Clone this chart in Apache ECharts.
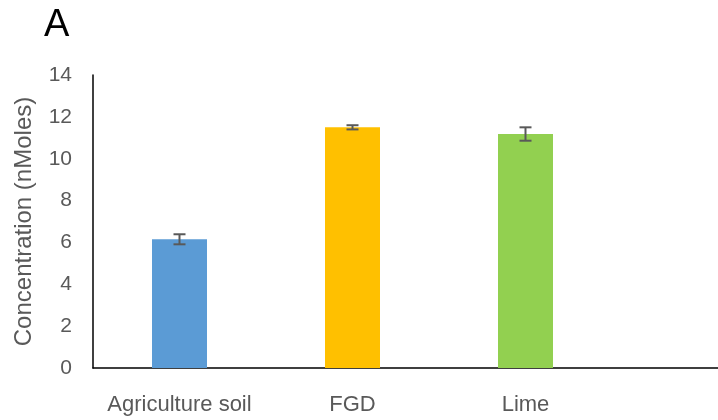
<!DOCTYPE html>
<html>
<head>
<meta charset="utf-8">
<script src="https://cdn.jsdelivr.net/npm/echarts@6/dist/echarts.min.js"></script>
<style>
  html, body { margin: 0; padding: 0; background: #fff; }
  #chart { width: 718px; height: 420px; }
</style>
</head>
<body>
<div id="chart"></div>
<script>
// Treatments and measured concentrations (nMoles) with standard error
const categories = ['Agriculture soil', 'FGD', 'Lime'];
const values = [6.15, 11.5, 11.18];
const errors = [0.24, 0.1, 0.32];
const barColors = ['#5B9BD5', '#FFC000', '#92D050'];
const yTicks = [0, 2, 4, 6, 8, 10, 12, 14];

const FONT = 'Liberation Sans, Arial, sans-serif';
const TEXT = '#595959';

const chart = echarts.init(document.getElementById('chart'));

const option = {
  animation: false,
  title: {
    text: 'A',
    left: 39, top: 2,
    textStyle: { fontFamily: FONT, fontSize: 38, fontWeight: 'normal', color: '#000' }
  },
  grid: [
    { left: 93, right: 106, top: 75, bottom: 52, containLabel: false },
    // companion grid so the baseline runs to the right edge
    { left: 93, right: 0, top: 75, bottom: 52, containLabel: false }
  ],
  xAxis: [
    {
      type: 'category',
      data: categories,
      gridIndex: 0,
      axisLine: { show: false },
      axisTick: { show: false },
      axisLabel: { interval: 0, hideOverlap: false, color: TEXT, fontFamily: FONT, fontSize: 22, margin: 26 }
    },
    {
      type: 'value',
      gridIndex: 1,
      min: 0, max: 1,
      axisLine: { show: true, lineStyle: { color: '#000', width: 1.5 } },
      axisTick: { show: false },
      axisLabel: { show: false },
      splitLine: { show: false }
    }
  ],
  yAxis: [
    {
      type: 'value',
      gridIndex: 0,
      min: yTicks[0],
      max: yTicks[yTicks.length - 1],
      interval: 2,
      name: 'Concentration (nMoles)',
      nameLocation: 'middle',
      nameGap: 57,
      nameTextStyle: { color: TEXT, fontFamily: FONT, fontSize: 24 },
      axisLine: { show: true, lineStyle: { color: '#000', width: 1.5 } },
      axisTick: { show: false },
      axisLabel: { color: TEXT, fontFamily: FONT, fontSize: 21, margin: 21 },
      splitLine: { show: false }
    },
    {
      type: 'value',
      gridIndex: 1,
      min: 0, max: 1,
      show: false
    }
  ],
  series: [
    {
      type: 'bar',
      xAxisIndex: 0, yAxisIndex: 0,
      barWidth: 55,
      data: values.map((v, i) => ({ value: v, itemStyle: { color: barColors[i] } }))
    },
    {
      type: 'custom',
      xAxisIndex: 0, yAxisIndex: 0,
      z: 5,
      data: values.map((v, i) => [i, v - errors[i], v + errors[i]]),
      renderItem: function (params, api) {
        const lo = api.coord([api.value(0), api.value(1)]);
        const hi = api.coord([api.value(0), api.value(2)]);
        const half = 6;
        const style = { stroke: '#595959', lineWidth: 2, fill: null };
        return {
          type: 'group',
          children: [
            { type: 'line', shape: { x1: hi[0], y1: hi[1], x2: lo[0], y2: lo[1] }, style },
            { type: 'line', shape: { x1: hi[0] - half, y1: hi[1], x2: hi[0] + half, y2: hi[1] }, style },
            { type: 'line', shape: { x1: lo[0] - half, y1: lo[1], x2: lo[0] + half, y2: lo[1] }, style }
          ]
        };
      }
    }
  ]
};

chart.setOption(option);
</script>
</body>
</html>
